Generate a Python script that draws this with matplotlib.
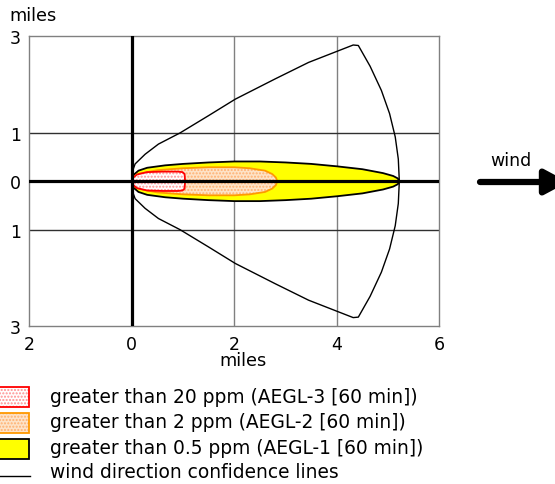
import matplotlib
matplotlib.use("Agg")
import matplotlib.pyplot as plt
from matplotlib.patches import Rectangle
from matplotlib.lines import Line2D

plt.rcParams['font.family'] = ['DejaVu Sans']

# ---- data (miles) ----
# AEGL-1 zone, upper half (symmetric about wind axis)
aegl1_x = [0, 0.02, 0.13, 0.3, 0.65, 1.0, 1.5, 2.0, 2.5, 3.0, 3.5, 4.0, 4.5, 4.9, 5.1, 5.19, 5.22]
aegl1_y = [0, 0.12, 0.22, 0.28, 0.33, 0.36, 0.39, 0.41, 0.41, 0.39, 0.36, 0.31, 0.25, 0.17, 0.11, 0.06, 0]
# AEGL-2 zone, upper half
aegl2_x = [0, 0.02, 0.15, 0.5, 1.0, 1.5, 2.0, 2.3, 2.6, 2.74, 2.81, 2.84]
aegl2_y = [0, 0.08, 0.16, 0.23, 0.27, 0.29, 0.29, 0.27, 0.22, 0.15, 0.08, 0]
# AEGL-3 zone, upper half
aegl3_x = [0, 0.02, 0.1, 0.3, 0.6, 0.9, 0.99, 1.03, 1.04]
aegl3_y = [0, 0.07, 0.14, 0.19, 0.2, 0.2, 0.19, 0.15, 0]
# wind direction confidence line (upper branch) and outer arc
conf_x = [0, 0.01, 0.065, 0.26, 0.52, 0.94, 1.5, 2.02, 2.8, 3.45, 4.03, 4.32, 4.42]
conf_y = [0, 0.2, 0.36, 0.56, 0.77, 1.0, 1.36, 1.70, 2.12, 2.46, 2.70, 2.82, 2.81]
arc_x = [4.42, 4.65, 4.87, 5.03, 5.14, 5.20, 5.22]
arc_y = [2.81, 2.38, 1.88, 1.40, 0.92, 0.46, 0]

xticks = [-2, 0, 2, 4, 6]
xtick_labels = ['2', '0', '2', '4', '6']
yticks = [-3, -1, 0, 1, 3]
ytick_labels = ['3', '1', '0', '1', '3']

legend_labels = ['greater than 20 ppm (AEGL-3 [60 min])',
                 'greater than 2 ppm (AEGL-2 [60 min])',
                 'greater than 0.5 ppm (AEGL-1 [60 min])',
                 'wind direction confidence lines']


def closed(xs, ys):
    px = list(xs) + list(reversed(xs))[1:]
    py = list(ys) + [-v for v in reversed(ys)][1:]
    return px, py


W, H = 555, 485
fig = plt.figure(figsize=(W / 100, H / 100), dpi=100)
ax = fig.add_axes([29.3 / W, 1 - 327.3 / H, 410 / W, 290 / H])
ax.set_xlim(-2, 6)
ax.set_ylim(-3, 3)

for s in ax.spines.values():
    s.set_color('#808080')
    s.set_linewidth(1.0)

# grid
for gx in [2, 4]:
    ax.axvline(gx, color='#808080', lw=1.0, zorder=1)
for gy in [-1, 1]:
    ax.axhline(gy, color='#303030', lw=1.0, zorder=1)

# zones
x1, y1 = closed(aegl1_x, aegl1_y)
ax.fill(x1, y1, facecolor='#ffff00', edgecolor='black', lw=1.3, zorder=3)
x2, y2 = closed(aegl2_x, aegl2_y)
ax.fill(x2, y2, facecolor='#fde3c8', edgecolor='#ffb070', hatch='.....', lw=0, zorder=4)
ax.fill(x2, y2, facecolor='none', edgecolor='#ff9900', lw=1.3, zorder=4)
x3, y3 = closed(aegl3_x, aegl3_y)
ax.fill(x3, y3, facecolor='white', edgecolor='#ff9090', hatch='.....', lw=0, zorder=5)
ax.fill(x3, y3, facecolor='none', edgecolor='#ff0000', lw=1.3, zorder=5)

# confidence lines
cx = list(conf_x) + list(arc_x) + [v for v in reversed(arc_x)][1:] + list(reversed(conf_x))
cy = list(conf_y) + list(arc_y) + [-v for v in reversed(arc_y)][1:] + [-v for v in reversed(conf_y)]
ax.plot(cx, cy, color='black', lw=1.0, zorder=6, solid_joinstyle='round')

# thick axes lines
ax.axhline(0, color='black', lw=2.3, zorder=7)
ax.axvline(0, color='black', lw=2.3, zorder=7)

ax.set_xticks(xticks)
ax.set_xticklabels(xtick_labels)
ax.set_yticks(yticks)
ax.set_yticklabels(ytick_labels)
ax.tick_params(length=0, labelsize=12.5, pad=6)

fig.text(9 / W, 1 - 16 / H, 'miles', fontsize=12.8, ha='left', va='center')
fig.text(243 / W, 1 - 361 / H, 'miles', fontsize=12.8, ha='center', va='center')

# wind arrow
fig.text(511 / W, 1 - 161 / H, 'wind', fontsize=12.5, ha='center', va='center')
ax.annotate('', xy=(568, H - 183), xytext=(480, H - 183), xycoords='figure pixels',
            textcoords='figure pixels', annotation_clip=False,
            arrowprops=dict(arrowstyle='-|>,head_length=1.4,head_width=0.75',
                            lw=4.5, color='black', capstyle='round', shrinkA=0, shrinkB=0))

# legend
rows = [398, 423, 448, 473]
fig.patches.append(Rectangle((-2 / W, 1 - 408 / H), 31 / W, 20 / H, transform=fig.transFigure,
                             facecolor='white', edgecolor='#ff9090', hatch='.....', lw=0))
fig.patches.append(Rectangle((-2 / W, 1 - 408 / H), 31 / W, 20 / H, transform=fig.transFigure,
                             facecolor='none', edgecolor='#ff0000', lw=1.3))
fig.patches.append(Rectangle((-2 / W, 1 - 434 / H), 31 / W, 20 / H, transform=fig.transFigure,
                             facecolor='#fde3c8', edgecolor='#ffb070', hatch='.....', lw=0))
fig.patches.append(Rectangle((-2 / W, 1 - 434 / H), 31 / W, 20 / H, transform=fig.transFigure,
                             facecolor='none', edgecolor='#ff9900', lw=1.3))
fig.patches.append(Rectangle((-2 / W, 1 - 460 / H), 31 / W, 20 / H, transform=fig.transFigure,
                             facecolor='#ffff00', edgecolor='black', lw=1.3))
fig.lines.append(Line2D([0, 30 / W], [1 - 477 / H, 1 - 477 / H], transform=fig.transFigure,
                        color='black', lw=1.0))
for r, lab in zip(rows, legend_labels):
    fig.text(50 / W, 1 - r / H, lab, fontsize=13.4, ha='left', va='center')

fig.savefig('out.png', dpi=100)
